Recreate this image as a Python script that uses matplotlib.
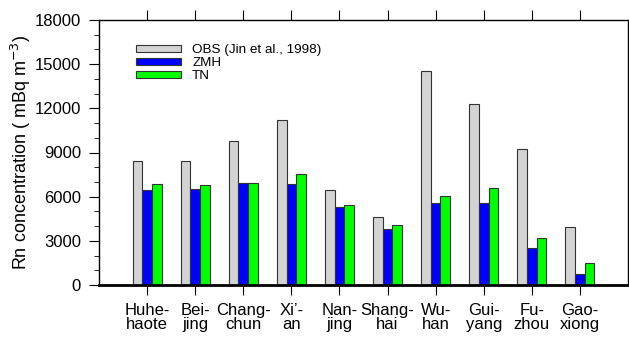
import matplotlib
matplotlib.use("Agg")
import matplotlib.pyplot as plt
import numpy as np
from matplotlib.ticker import MultipleLocator

plt.rcParams['font.family'] = ['Liberation Sans', 'DejaVu Sans']

cities = ["Huhe-\nhaote", "Bei-\njing", "Chang-\nchun", "Xi\u2019-\nan", "Nan-\njing",
          "Shang-\nhai", "Wu-\nhan", "Gui-\nyang", "Fu-\nzhou", "Gao-\nxiong"]
obs = [8400, 8400, 9800, 11200, 6450, 4600, 14560, 12320, 9240, 3940]
zmh = [6430, 6500, 6900, 6880, 5270, 3830, 5550, 5550, 2510, 720]
tn = [6850, 6770, 6930, 7540, 5410, 4050, 6050, 6560, 3190, 1470]
series_labels = ["OBS (Jin et al., 1998)", "ZMH", "TN"]
colors = ["#d3d3d3", "#0000ff", "#00ff00"]

fig = plt.figure(figsize=(6.29, 3.38), dpi=100)
ax = fig.add_axes([99/629, 53/338, 529/629, 265/338])

x = np.arange(1, len(cities) + 1)
w = 0.2
for i, (vals, lab, c) in enumerate(zip([obs, zmh, tn], series_labels, colors)):
    ax.bar(x + (i - 1) * w, vals, width=w, color=c, edgecolor="#333333",
           linewidth=0.8, label=lab, zorder=2)

ax.set_xlim(0, 11)
ax.set_ylim(0, 18000)
ax.set_xticks(x)
ax.set_xticklabels(cities, fontsize=12, linespacing=0.95)
ax.yaxis.set_major_locator(MultipleLocator(3000))
ax.yaxis.set_minor_locator(MultipleLocator(1000))
ax.tick_params(axis='y', which='major', direction='out', length=7, width=0.8,
               labelsize=12, right=True, left=True, pad=6)
ax.tick_params(axis='y', which='minor', direction='out', length=3.5, width=0.6,
               right=True, left=True)
ax.tick_params(axis='x', which='major', direction='out', length=7, width=0.8,
               top=True, bottom=True, pad=6)
ax.set_ylabel("Rn concentration ( mBq m$^{-3}$)", fontsize=13, labelpad=1)
for s in ax.spines.values():
    s.set_linewidth(1.0)
ax.spines['bottom'].set_linewidth(2.0)

leg = ax.legend(loc='upper left', bbox_to_anchor=(0.059, 0.93), frameon=False,
                fontsize=9.7, handlelength=3.4, handleheight=0.4, labelspacing=0.08,
                handletextpad=0.8, borderaxespad=0)

fig.savefig("out.png", dpi=100)
